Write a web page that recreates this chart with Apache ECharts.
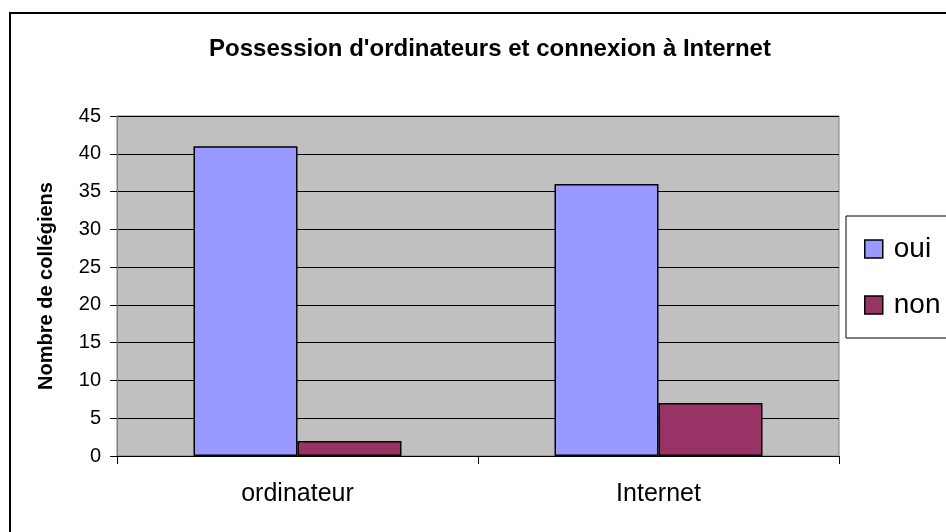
<!DOCTYPE html>
<html><head><meta charset="utf-8">
<script src="https://cdn.jsdelivr.net/npm/echarts@6/dist/echarts.min.js"></script>
<style>html,body{margin:0;padding:0;background:#fff}#c{width:946px;height:532px}</style>
</head><body><div id="c"></div>
<script>
const categories = ['ordinateur', 'Internet'];
const ouiValues = [41, 36];
const nonValues = [2, 7];
const yTicks = [0, 5, 10, 15, 20, 25, 30, 35, 40, 45];
const titleText = "Possession d'ordinateurs et connexion à Internet";
const yAxisName = 'Nombre de collégiens';

const chart = echarts.init(document.getElementById('c'), null, {renderer: 'canvas'});
const F = 'Arial, "Liberation Sans", sans-serif';
chart.setOption({
  animation: false,
  backgroundColor: '#fff',
  textStyle: {fontFamily: F},
  title: {
    text: titleText, left: 485, top: 32, textAlign: 'center',
    textStyle: {fontFamily: F, fontWeight: 'bold', fontSize: 24, color: '#000'}
  },
  graphic: [{
    type: 'rect', silent: true, z: 100,
    shape: {x: 10, y: 13, width: 1000, height: 600},
    style: {fill: 'none', stroke: '#000', lineWidth: 2}
  }],
  legend: {
    orient: 'vertical', left: 846, top: 216,
    backgroundColor: '#fff', borderColor: '#000', borderWidth: 1,
    padding: [19, 40, 19, 18], itemGap: 28,
    itemWidth: 18, itemHeight: 18, icon: 'rect',
    itemStyle: {borderColor: '#000', borderWidth: 1.5},
    textStyle: {fontFamily: F, fontSize: 28, color: '#000', padding: [0, 0, 0, 6]},
    data: ['oui', 'non']
  },
  grid: {
    left: 117, top: 116, right: 107, bottom: 76,
    show: true, backgroundColor: '#c0c0c0', borderColor: '#808080', borderWidth: 1
  },
  xAxis: {
    type: 'category', data: categories,
    axisLine: {show: true, lineStyle: {color: '#000', width: 1}},
    axisTick: {show: true, alignWithLabel: false, length: 8, lineStyle: {color: '#000'}},
    axisLabel: {fontFamily: F, fontSize: 25, color: '#000', margin: 26},
    splitLine: {show: false}
  },
  yAxis: {
    type: 'value', min: 0, max: 45, interval: 5,
    name: yAxisName, nameLocation: 'middle', nameGap: 61, nameRotate: 90,
    nameTextStyle: {fontFamily: F, fontWeight: 'bold', fontSize: 20, color: '#000'},
    axisLine: {show: true, lineStyle: {color: '#808080', width: 1}},
    axisTick: {show: true, length: 7, lineStyle: {color: '#000'}},
    axisLabel: {fontFamily: F, fontSize: 20, color: '#000', margin: 16,
      formatter: v => yTicks.includes(v) ? String(v) : ''},
    splitLine: {show: true, lineStyle: {color: '#000', width: 1}}
  },
  series: [
    {name: 'oui', type: 'bar', data: ouiValues, barWidth: 104, barGap: '0%',
     itemStyle: {color: '#9999ff', borderColor: '#000', borderWidth: 1.5}},
    {name: 'non', type: 'bar', data: nonValues, barWidth: 104, barGap: '0%',
     itemStyle: {color: '#993366', borderColor: '#000', borderWidth: 1.5}}
  ]
});
</script></body></html>
